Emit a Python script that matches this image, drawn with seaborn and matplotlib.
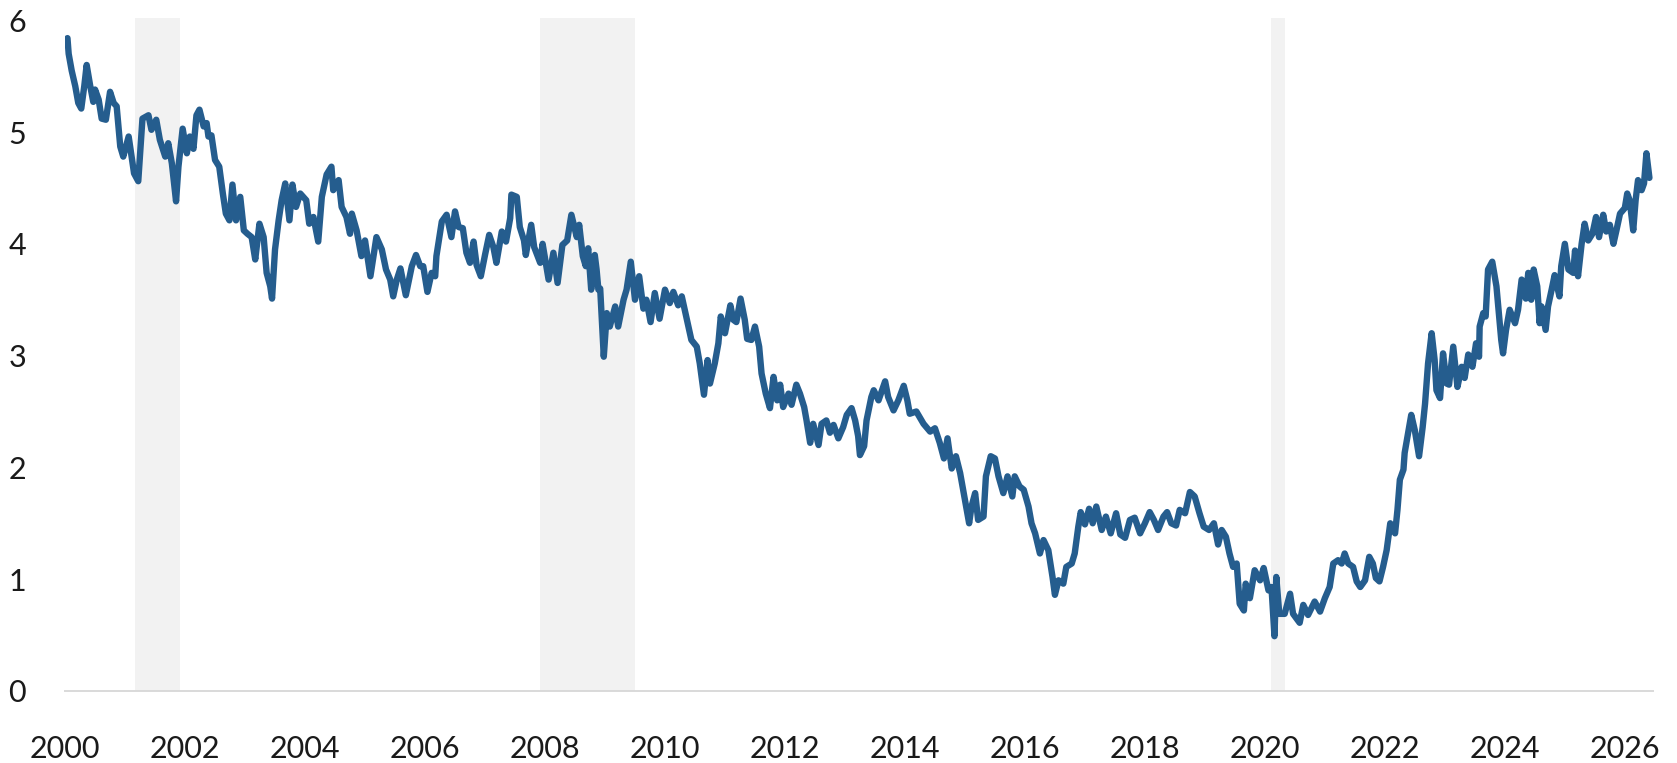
import matplotlib
matplotlib.use("Agg")
import matplotlib.pyplot as plt
import seaborn as sns
import pandas as pd

# Lecturas aproximadas del gráfico: fecha (año decimal) y valor
dates = [
    2000.04, 2000.06, 2000.11, 2000.17, 2000.22, 2000.27, 2000.32, 2000.36, 2000.42, 2000.47,
    2000.50, 2000.56, 2000.61, 2000.68, 2000.75, 2000.81, 2000.86, 2000.92, 2000.97,
    2001.06, 2001.11, 2001.15, 2001.22, 2001.29, 2001.39, 2001.44, 2001.52, 2001.58, 2001.67,
    2001.72, 2001.78, 2001.85, 2001.89, 2001.96,
    2002.03, 2002.08, 2002.14, 2002.19, 2002.24, 2002.31, 2002.36, 2002.39, 2002.44, 2002.50,
    2002.57, 2002.63, 2002.68, 2002.74, 2002.79, 2002.85, 2002.92, 2002.98,
    2003.04, 2003.11, 2003.17, 2003.24, 2003.31, 2003.36, 2003.42, 2003.45, 2003.50, 2003.56,
    2003.61, 2003.67, 2003.74, 2003.79, 2003.85, 2003.92,
    2004.02, 2004.07, 2004.14, 2004.22, 2004.28, 2004.36, 2004.44, 2004.47, 2004.56, 2004.61,
    2004.69, 2004.75, 2004.78, 2004.86, 2004.94,
    2005.00, 2005.09, 2005.19, 2005.28, 2005.35, 2005.42, 2005.47, 2005.53, 2005.59, 2005.68,
    2005.78, 2005.85, 2005.92, 2005.97,
    2006.04, 2006.11, 2006.17, 2006.19, 2006.28, 2006.36, 2006.44, 2006.50, 2006.56, 2006.63,
    2006.69, 2006.75, 2006.81, 2006.86, 2006.93,
    2007.00, 2007.07, 2007.14, 2007.19, 2007.28, 2007.35, 2007.42, 2007.44, 2007.53, 2007.58,
    2007.65, 2007.68, 2007.77, 2007.82, 2007.92, 2007.96,
    2008.06, 2008.14, 2008.21, 2008.29, 2008.37, 2008.44, 2008.53, 2008.57, 2008.63, 2008.68,
    2008.72, 2008.77, 2008.83, 2008.86, 2008.89, 2008.92, 2008.95, 2008.98,
    2009.03, 2009.08, 2009.17, 2009.22, 2009.31, 2009.36, 2009.43, 2009.50, 2009.57, 2009.64,
    2009.69, 2009.76, 2009.83, 2009.91,
    2010.00, 2010.08, 2010.14, 2010.22, 2010.28, 2010.39, 2010.44, 2010.53, 2010.58, 2010.65,
    2010.71, 2010.75, 2010.83, 2010.89, 2010.93,
    2011.00, 2011.09, 2011.14, 2011.19, 2011.26, 2011.33, 2011.37, 2011.44, 2011.50, 2011.57,
    2011.61, 2011.68, 2011.75, 2011.81, 2011.87, 2011.92, 2011.97,
    2012.06, 2012.11, 2012.19, 2012.25, 2012.32, 2012.36, 2012.42, 2012.47, 2012.56, 2012.61,
    2012.69, 2012.75, 2012.81, 2012.89, 2012.97,
    2013.03, 2013.11, 2013.17, 2013.22, 2013.25, 2013.32, 2013.36, 2013.44, 2013.48, 2013.56,
    2013.67, 2013.72, 2013.81, 2013.89, 2013.98,
    2014.04, 2014.08, 2014.19, 2014.31, 2014.42, 2014.50, 2014.58, 2014.65, 2014.71, 2014.78,
    2014.85, 2014.92,
    2015.00, 2015.07, 2015.11, 2015.17, 2015.22, 2015.31, 2015.35, 2015.43, 2015.50, 2015.56,
    2015.64, 2015.71, 2015.79, 2015.83, 2015.91, 2015.98,
    2016.06, 2016.11, 2016.17, 2016.25, 2016.31, 2016.39, 2016.46, 2016.50, 2016.56, 2016.64,
    2016.69, 2016.78, 2016.83, 2016.89, 2016.93,
    2017.00, 2017.07, 2017.13, 2017.19, 2017.28, 2017.35, 2017.43, 2017.52, 2017.59, 2017.67,
    2017.75, 2017.83, 2017.92,
    2018.00, 2018.08, 2018.15, 2018.22, 2018.31, 2018.37, 2018.44, 2018.52, 2018.58, 2018.67,
    2018.75, 2018.83, 2018.91, 2018.98,
    2019.07, 2019.15, 2019.22, 2019.28, 2019.35, 2019.41, 2019.47, 2019.53, 2019.58, 2019.65,
    2019.68, 2019.75, 2019.83, 2019.92, 2019.98,
    2020.06, 2020.11, 2020.16, 2020.19, 2020.24, 2020.33, 2020.42, 2020.47, 2020.58, 2020.64,
    2020.72, 2020.83, 2020.92,
    2021.00, 2021.08, 2021.14, 2021.22, 2021.28, 2021.33, 2021.39, 2021.47, 2021.53, 2021.59,
    2021.67, 2021.74, 2021.80, 2021.85, 2021.91, 2021.97,
    2022.03, 2022.09, 2022.17, 2022.21, 2022.25, 2022.31, 2022.33, 2022.44, 2022.50, 2022.57,
    2022.63, 2022.67, 2022.72, 2022.78, 2022.83, 2022.86, 2022.92, 2022.97,
    2023.03, 2023.07, 2023.14, 2023.21, 2023.28, 2023.33, 2023.39, 2023.46, 2023.52, 2023.57,
    2023.58, 2023.64, 2023.68, 2023.72, 2023.79, 2023.86, 2023.89, 2023.94, 2023.97,
    2024.02, 2024.08, 2024.17, 2024.22, 2024.28, 2024.35, 2024.39, 2024.44, 2024.48, 2024.54,
    2024.58, 2024.61, 2024.68, 2024.72, 2024.78, 2024.83, 2024.91, 2024.94,
    2025.00, 2025.06, 2025.14, 2025.17, 2025.22, 2025.28, 2025.33, 2025.39, 2025.46, 2025.52,
    2025.57, 2025.64, 2025.69, 2025.75, 2025.81, 2025.86, 2025.92,
    2026.00, 2026.04, 2026.08, 2026.14, 2026.18, 2026.22, 2026.28, 2026.32, 2026.36, 2026.41,
]

values = [
    5.84, 5.70, 5.55, 5.41, 5.26, 5.21, 5.41, 5.60, 5.41, 5.27,
    5.38, 5.29, 5.12, 5.11, 5.36, 5.26, 5.23, 4.87, 4.78,
    4.96, 4.78, 4.63, 4.56, 5.12, 5.15, 5.02, 5.11, 4.93, 4.78,
    4.90, 4.72, 4.38, 4.69, 5.03,
    4.81, 4.96, 4.85, 5.15, 5.20, 5.05, 5.08, 4.96, 4.97, 4.75,
    4.69, 4.45, 4.27, 4.21, 4.53, 4.21, 4.42, 4.12,
    4.09, 4.06, 3.86, 4.18, 4.06, 3.74, 3.62, 3.51, 3.95, 4.21,
    4.39, 4.54, 4.21, 4.53, 4.33, 4.45,
    4.39, 4.18, 4.24, 4.02, 4.42, 4.62, 4.69, 4.48, 4.57, 4.33,
    4.24, 4.09, 4.27, 4.12, 3.89,
    4.03, 3.71, 4.06, 3.95, 3.77, 3.68, 3.53, 3.68, 3.78, 3.54,
    3.80, 3.90, 3.80, 3.80,
    3.57, 3.74, 3.71, 3.89, 4.20, 4.26, 4.06, 4.29, 4.15, 4.14,
    3.92, 3.83, 4.02, 3.81, 3.71,
    3.90, 4.08, 3.97, 3.83, 4.11, 4.02, 4.23, 4.44, 4.42, 4.15,
    4.03, 3.90, 4.17, 3.97, 3.83, 4.00,
    3.68, 3.92, 3.65, 3.99, 4.03, 4.26, 4.06, 4.17, 3.89, 3.80,
    3.96, 3.59, 3.90, 3.77, 3.59, 3.60, 3.30, 2.99,
    3.38, 3.26, 3.44, 3.26, 3.50, 3.59, 3.84, 3.50, 3.71, 3.42,
    3.50, 3.30, 3.56, 3.33,
    3.59, 3.47, 3.57, 3.45, 3.53, 3.26, 3.14, 3.08, 2.93, 2.65,
    2.96, 2.75, 2.93, 3.11, 3.35,
    3.20, 3.45, 3.32, 3.30, 3.51, 3.32, 3.15, 3.14, 3.26, 3.08,
    2.84, 2.66, 2.53, 2.81, 2.60, 2.74, 2.54,
    2.66, 2.56, 2.74, 2.66, 2.54, 2.42, 2.22, 2.39, 2.20, 2.39,
    2.42, 2.31, 2.38, 2.26, 2.36,
    2.47, 2.53, 2.42, 2.28, 2.11, 2.19, 2.42, 2.63, 2.69, 2.60,
    2.77, 2.63, 2.51, 2.60, 2.73,
    2.60, 2.48, 2.50, 2.39, 2.32, 2.35, 2.22, 2.08, 2.26, 1.99,
    2.10, 1.95,
    1.71, 1.50, 1.65, 1.77, 1.53, 1.56, 1.92, 2.10, 2.08, 1.92,
    1.77, 1.92, 1.74, 1.92, 1.83, 1.80,
    1.65, 1.50, 1.41, 1.23, 1.35, 1.26, 1.02, 0.86, 0.99, 0.96,
    1.11, 1.14, 1.23, 1.47, 1.60,
    1.49, 1.63, 1.50, 1.65, 1.44, 1.56, 1.41, 1.59, 1.40, 1.37,
    1.53, 1.55, 1.41,
    1.50, 1.60, 1.53, 1.44, 1.56, 1.60, 1.50, 1.48, 1.62, 1.59,
    1.78, 1.74, 1.59, 1.47,
    1.44, 1.50, 1.31, 1.44, 1.38, 1.23, 1.11, 1.14, 0.78, 0.72,
    0.96, 0.83, 1.08, 0.99, 1.10,
    0.90, 0.93, 0.49, 1.02, 0.69, 0.69, 0.87, 0.69, 0.61, 0.77,
    0.68, 0.80, 0.71,
    0.83, 0.93, 1.14, 1.17, 1.14, 1.23, 1.14, 1.11, 0.98, 0.93,
    0.99, 1.20, 1.14, 1.01, 0.98, 1.11,
    1.26, 1.50, 1.41, 1.62, 1.89, 1.98, 2.13, 2.47, 2.33, 2.10,
    2.36, 2.57, 2.93, 3.20, 2.96, 2.69, 2.62, 3.02,
    2.75, 2.74, 3.08, 2.72, 2.90, 2.80, 3.01, 2.90, 3.11, 2.99,
    3.26, 3.38, 3.35, 3.77, 3.84, 3.62, 3.44, 3.14, 3.02,
    3.23, 3.41, 3.29, 3.41, 3.68, 3.51, 3.74, 3.50, 3.77, 3.62,
    3.29, 3.44, 3.23, 3.44, 3.59, 3.72, 3.53, 3.80,
    4.00, 3.77, 3.74, 3.94, 3.71, 4.00, 4.18, 4.03, 4.09, 4.24,
    4.06, 4.26, 4.11, 4.17, 4.00, 4.12, 4.27,
    4.32, 4.45, 4.39, 4.12, 4.39, 4.57, 4.48, 4.54, 4.81, 4.59,
]

# Recesiones sombreadas
rec_start = [2001.17, 2007.92, 2020.10]
rec_end = [2001.92, 2009.50, 2020.34]

x_ticks = list(range(2000, 2027, 2))
y_ticks = [0, 1, 2, 3, 4, 5, 6]

df = pd.DataFrame({'Fecha': dates, 'Valor': values})

sns.set_style('white')
plt.rcParams['font.family'] = ['Lato', 'DejaVu Sans']

fig = plt.figure(figsize=(16.77, 7.63), dpi=100)
ax = fig.add_axes([0.0388, 0.0944, 0.9469, 0.882])

for s, e in zip(rec_start, rec_end):
    ax.axvspan(s, e, color='#f2f2f2', lw=0, zorder=0)

sns.lineplot(data=df, x='Fecha', y='Valor', ax=ax, color='#255d8e', linewidth=4.6,
             estimator=None, errorbar=None, sort=False, zorder=3)

ax.set_xlim(2000, 2026.47)
ax.set_ylim(0, 6.02)
ax.set_xticks(x_ticks)
ax.set_xticklabels([str(t) for t in x_ticks])
ax.set_yticks(y_ticks)
ax.set_yticklabels([str(t) for t in y_ticks])
ax.set_xlabel('')
ax.set_ylabel('')

for side in ['top', 'right', 'left']:
    ax.spines[side].set_visible(False)
ax.spines['bottom'].set_color('#d9d9d9')
ax.spines['bottom'].set_linewidth(1.4)

ax.tick_params(axis='x', length=9.5, width=1.4, color='#d9d9d9', pad=22,
               labelsize=22, labelcolor='#1a1a1a')
ax.tick_params(axis='y', length=0, pad=28, labelsize=22, labelcolor='#1a1a1a')
ax.grid(False)

fig.savefig('out.png', dpi=100)
